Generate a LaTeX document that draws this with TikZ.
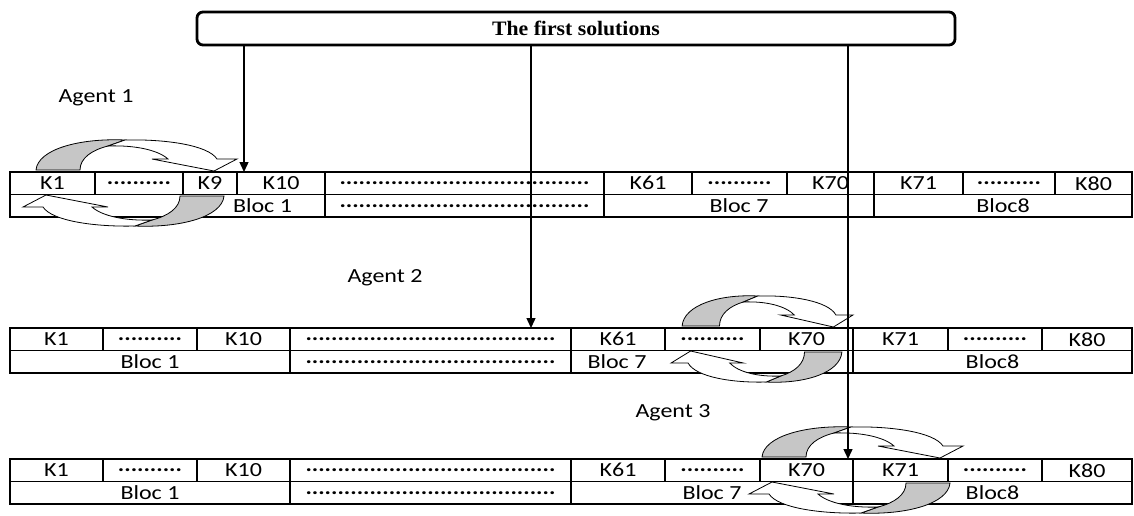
\documentclass[tikz,border=0pt]{standalone}
\usepackage{fontspec}
\setmainfont{Carlito}[FakeStretch=1.2]
\newfontfamily\titlefont{Liberation Serif}[FakeStretch=1.06]

\usetikzlibrary{arrows.meta,positioning}

\newcommand\sdots{\textbf{..........}}
\newcommand\longdots{\textbf{.......................................}}

\begin{document}
\begin{tikzpicture}[
  x=1pt, y=-1pt,
  font=\fontsize{20}{22}\selectfont,
  cell/.style={draw, line width=1.1pt, minimum height=22.5, inner sep=0pt, outer sep=0pt},
  sol/.style={draw, line width=2.8pt, rounded corners=6pt, minimum width=758, minimum height=33,
    font={\titlefont\bfseries\fontsize{20.5}{22}\selectfont}},
  flow/.style={-{Triangle[width=9pt,length=10pt]}, line width=1.4pt},
  shade/.style={fill=gray!45, draw=black, line width=0.8pt},
  face/.style={fill=white, draw=black, line width=0.8pt},
  cyc/.pic={
    \foreach \r in {0,180}{
      \begin{scope}[rotate=\r]
        \filldraw[shade] (-94,-13) .. controls (-92,-34) and (-50,-45) .. (-5,-43)
          -- (-22,-37) .. controls (-38,-33) and (-50,-25) .. (-50,-13) -- cycle;
        \filldraw[face] (-5,-43) .. controls (35,-44) and (78,-38) .. (87,-24)
          -- (107,-24) -- (84,-12) -- (22,-24) -- (38,-24)
          .. controls (28,-33) and (5,-38) .. (-22,-37) -- cycle;
      \end{scope}
    }
  }
]
\useasboundingbox (0,0) rectangle (1134,515);

\node[sol] (first) at (576,28.5) {The first solutions};

% Agent 1
\node (ag1) at (96,98) {Agent 1};
\node[cell, minimum width=85, anchor=west] (r1k1) at (10,183.25) {K1};
\foreach \n/\w/\t [remember=\n as \p (initially r1k1)] in
  {r1d1/88/\sdots, r1k9/54/K9, r1k10/88/K10, r1d2/279/\longdots, r1k61/88/K61,
   r1d3/95/\sdots, r1k70/87/K70, r1k71/89/K71, r1d4/92/\sdots, r1k80/77/K80}
  \node[cell, minimum width=\w, right=0pt of \p] (\n) {\t};
\node[cell, minimum width=315, anchor=north west, label={[xshift=95]center:Bloc 1}] (r1b1) at (r1k1.south west) {};
\foreach \n/\w/\t [remember=\n as \p (initially r1b1)] in
  {r1b2/279/\longdots, r1b7/270/Bloc 7, r1b8/258/Bloc8}
  \node[cell, minimum width=\w, right=0pt of \p] (\n) {\t};

% Agent 2
\node (ag2) at (385,278) {Agent 2};
\node[cell, minimum width=93, anchor=west] (r2k1) at (10,339.25) {K1};
\foreach \n/\w/\t [remember=\n as \p (initially r2k1)] in
  {r2d1/94/\sdots, r2k10/93/K10, r2d2/281/\longdots, r2k61/94/K61, r2d3/95/\sdots,
   r2k70/93/K70, r2k71/95/K71, r2d4/94/\sdots, r2k80/90/K80}
  \node[cell, minimum width=\w, right=0pt of \p] (\n) {\t};
\node[cell, minimum width=280, anchor=north west] (r2b1) at (r2k1.south west) {Bloc 1};
\node[cell, minimum width=281, right=0pt of r2b1] (r2b2) {\longdots};
\node[cell, minimum width=282, right=0pt of r2b2, label={[xshift=-95]center:Bloc 7}] (r2b7) {};
\node[cell, minimum width=279, right=0pt of r2b7] (r2b8) {Bloc8};

% Agent 3
\node (ag3) at (673,413) {Agent 3};
\node[cell, minimum width=93, anchor=west] (r3k1) at (10,470.25) {K1};
\foreach \n/\w/\t [remember=\n as \p (initially r3k1)] in
  {r3d1/94/\sdots, r3k10/93/K10, r3d2/281/\longdots, r3k61/94/K61, r3d3/95/\sdots,
   r3k70/93/K70, r3k71/95/K71, r3d4/94/\sdots, r3k80/90/K80}
  \node[cell, minimum width=\w, right=0pt of \p] (\n) {\t};
\node[cell, minimum width=280, anchor=north west] (r3b1) at (r3k1.south west) {Bloc 1};
\foreach \n/\w/\t [remember=\n as \p (initially r3b1)] in
  {r3b2/281/\longdots, r3b7/282/Bloc 7, r3b8/279/Bloc8}
  \node[cell, minimum width=\w, right=0pt of \p] (\n) {\t};

% exchanges inside the blocs
\pic (swap1) at (130,183) {cyc};
\pic[xscale=0.85] (swap2) at (762,339) {cyc};
\pic (swap3) at (856,470) {cyc};

% first solutions sent to the agents
\coordinate (in1) at ([xshift=7]r1k10.north west);
\coordinate (in2) at ([xshift=-40]r2d2.north east);
\coordinate (in3) at ([xshift=-5]r3k70.north east);
\draw[flow] (first.south -| in1) -- (in1);
\draw[flow] (first.south -| in2) -- (in2);
\draw[flow] (first.south -| in3) -- (in3);
\end{tikzpicture}
\end{document}
